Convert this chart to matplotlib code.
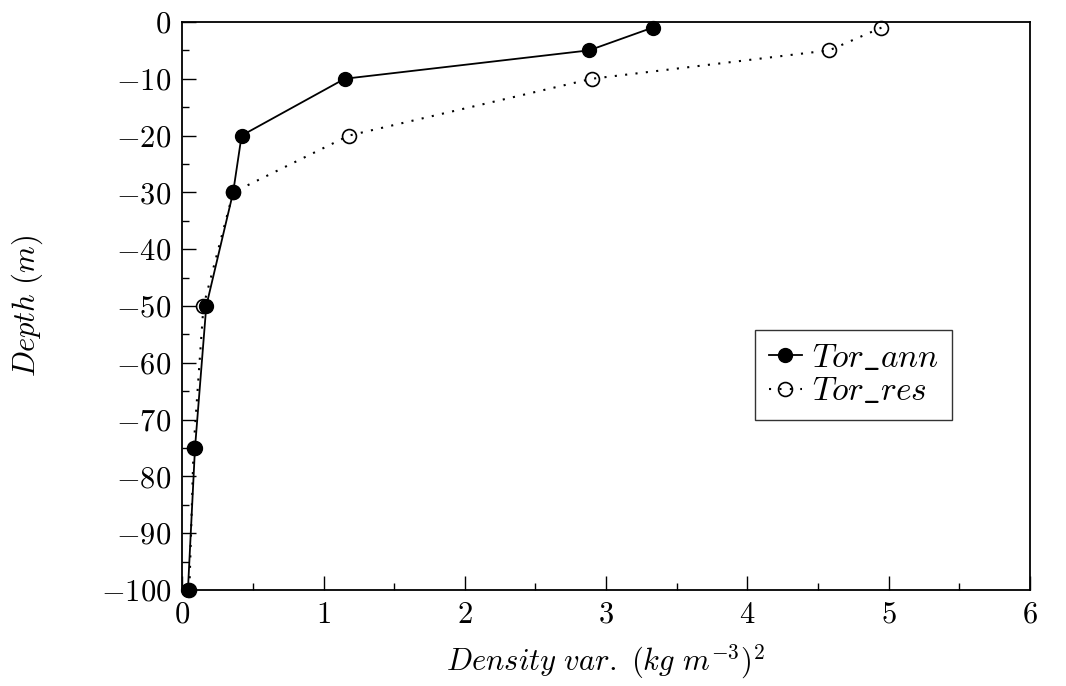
import matplotlib
matplotlib.use("Agg")
import matplotlib.pyplot as plt
from matplotlib.ticker import MultipleLocator

plt.rcParams['font.family'] = 'serif'
plt.rcParams['font.serif'] = ['cmr10', 'DejaVu Serif']
plt.rcParams['mathtext.fontset'] = 'cm'
plt.rcParams['axes.formatter.use_mathtext'] = True

depth = [-1, -5, -10, -20, -30, -50, -75, -100]
tor_ann = [3.33, 2.88, 1.15, 0.42, 0.36, 0.17, 0.09, 0.04]
tor_res = [4.95, 4.58, 2.90, 1.18, 0.36, 0.15, 0.08, 0.05]

fig = plt.figure(figsize=(10.66, 6.86), dpi=100)
ax = fig.add_axes([0.171, 0.14, 0.795, 0.828])

ax.plot(tor_ann, depth, '-', color='black', lw=1.3, marker='o', ms=10,
        mfc='black', mec='black', label=r'$Tor\_ann$', clip_on=False, zorder=3)
ax.plot(tor_res, depth, linestyle=(0, (1, 4)), color='black', lw=1.5, marker='o', ms=10,
        mfc='none', mec='black', mew=1.2, label=r'$Tor\_res$', clip_on=False, zorder=2)

ax.set_xlim(0, 6)
ax.set_ylim(-100, 0)
ax.xaxis.set_major_locator(MultipleLocator(1))
ax.xaxis.set_minor_locator(MultipleLocator(0.5))
ax.yaxis.set_major_locator(MultipleLocator(10))
ax.yaxis.set_minor_locator(MultipleLocator(5))
ax.tick_params(which='both', direction='in', top=False, right=False, labelsize=22, pad=8)
ax.tick_params(which='major', length=10, width=1)
ax.tick_params(which='minor', length=5, width=1)
for s in ax.spines.values():
    s.set_linewidth(1.3)

ax.set_xlabel(r'$Density\ var.\ (kg\ m^{-3})^{2}$', fontsize=22, labelpad=10)
ax.set_ylabel(r'$Depth\ (m)$', fontsize=22, labelpad=40)

leg = ax.legend(loc='upper left', bbox_to_anchor=(0.676, 0.458), fontsize=24,
                frameon=True, fancybox=False, edgecolor='black', handlelength=1.0,
                handletextpad=0.3, borderpad=0.4, labelspacing=0.1, borderaxespad=0)
leg.get_frame().set_linewidth(1.0)

fig.savefig('out.png', dpi=100)
